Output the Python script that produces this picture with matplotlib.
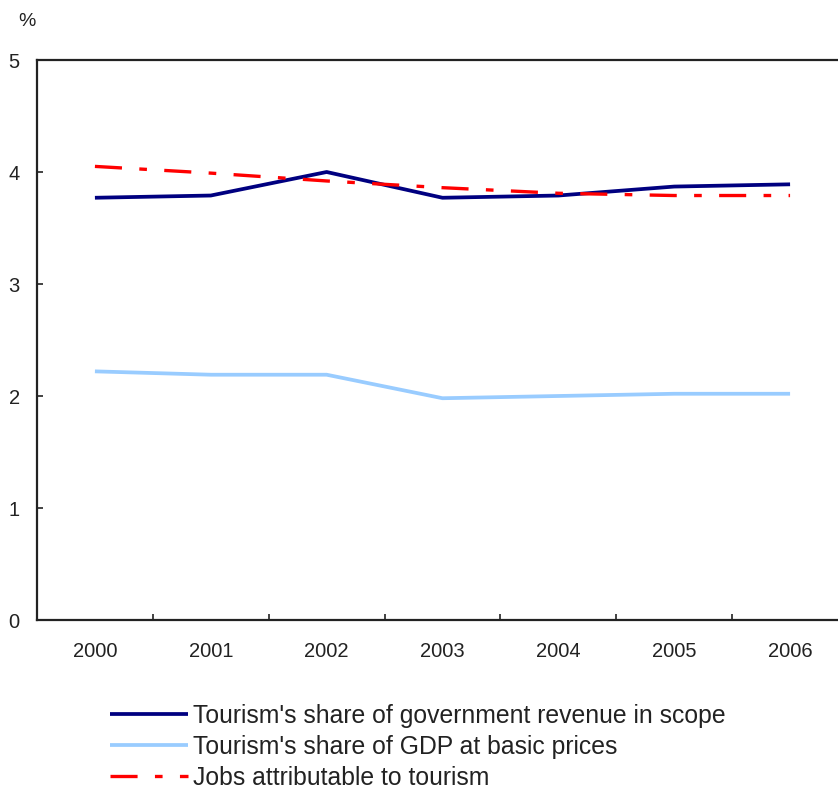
import matplotlib
matplotlib.use("Agg")
import matplotlib.pyplot as plt
from matplotlib.ticker import FixedLocator

plt.rcParams['font.family'] = ['Liberation Sans', 'DejaVu Sans']
plt.rcParams['lines.scale_dashes'] = False

years = ["2000", "2001", "2002", "2003", "2004", "2005", "2006"]
gov_revenue = [3.77, 3.79, 4.00, 3.77, 3.79, 3.87, 3.89]
gdp_share = [2.22, 2.19, 2.19, 1.98, 2.00, 2.02, 2.02]
jobs = [4.05, 3.99, 3.92, 3.86, 3.81, 3.79, 3.79]

labels = [
    "Tourism's share of government revenue in scope",
    "Tourism's share of GDP at basic prices",
    "Jobs attributable to tourism",
]

W, H = 838, 792
fig = plt.figure(figsize=(W / 100, H / 100), dpi=100)
# category axis is wider than the canvas so its right edge runs off the figure
ax = fig.add_axes([37 / W, 1 - 620 / H, 811 / W, 560 / H])

x = list(range(len(years)))
l1, = ax.plot(x, gov_revenue, color="#000080", lw=2.7, solid_capstyle="butt")
l2, = ax.plot(x, gdp_share, color="#99CCFF", lw=2.7, solid_capstyle="butt")
l3, = ax.plot(x, jobs, color="#FF0000", lw=2.4,
              linestyle=(0, (19.5, 12.5, 5.5, 12.5)), dash_capstyle="butt")

ax.set_xlim(-0.5, len(years) - 0.5)
ax.set_ylim(0, 5)
ax.set_yticks([0, 1, 2, 3, 4, 5])
ax.set_xticks(x)
ax.set_xticklabels(years)
ax.xaxis.set_minor_locator(FixedLocator([i + 0.5 for i in x[:-1]]))

ax.tick_params(axis="x", which="major", length=0, pad=15.5, labelsize=14.5, colors="#222222")
ax.tick_params(axis="x", which="minor", direction="in", length=4, width=1.2, color="#222222")
ax.tick_params(axis="y", direction="in", length=4, width=1.2, pad=12.5, labelsize=14.5,
               colors="#222222")

for side in ["left", "bottom", "top", "right"]:
    ax.spines[side].set_linewidth(1.6)
    ax.spines[side].set_color("#222222")

fig.text(27 / W, 1 - 22 / H, "%", ha="center", va="center", fontsize=14, color="#222222")

leg = fig.legend([l1, l2, l3], labels, loc="upper left",
                 bbox_to_anchor=(110 / W, 1 - 704 / H), frameon=False,
                 fontsize=17.8, handlelength=3.15, handletextpad=0.2,
                 labelspacing=0.28, borderpad=0, borderaxespad=0)
for t in leg.get_texts():
    t.set_color("#222222")

fig.savefig("out.png", dpi=100)
